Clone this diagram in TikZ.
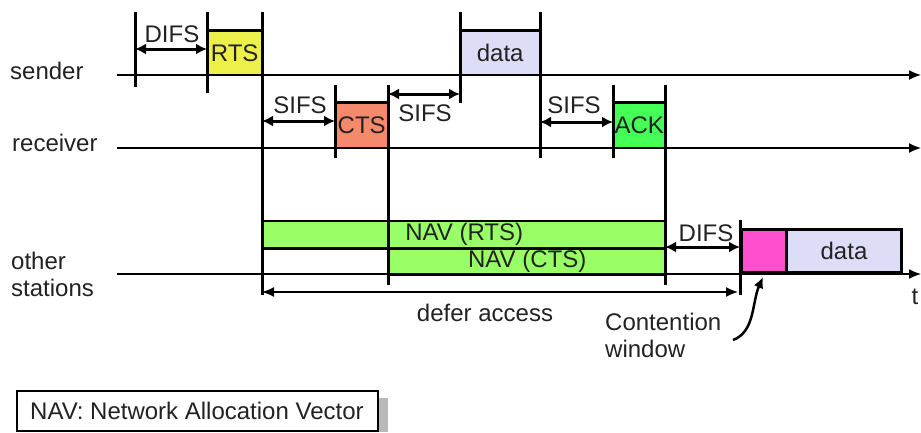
\documentclass[tikz,border=0pt]{standalone}
\usepackage{fontspec}
\setmainfont{Liberation Sans}
\usetikzlibrary{arrows.meta}
\definecolor{txt}{HTML}{222222}
\definecolor{rtsc}{HTML}{EEF04A}
\definecolor{ctsc}{HTML}{F4896B}
\definecolor{datac}{HTML}{DDDDF8}
\definecolor{ackc}{HTML}{44FF55}
\definecolor{navc}{HTML}{99FF66}
\definecolor{cwc}{HTML}{FF4FCF}
\begin{document}
\begin{tikzpicture}[x=1pt,y=-1pt,
  lbl/.style={font=\fontsize{24}{27}\selectfont, text=txt, inner sep=0pt},
  tline/.style={line width=1.5pt, -{Latex[length=12pt,width=10pt]}},
  tickline/.style={line width=3pt},
  dimarrow/.style={line width=3pt, {Latex[length=11pt,width=11pt]}-{Latex[length=11pt,width=11pt]}},
  fbox/.style={inner sep=0pt, font=\fontsize{24}{27}\selectfont, text=txt},
  navbox/.style={fbox, fill=navc, draw=black, line width=1.5pt, anchor=north west}
]
\useasboundingbox (0,0) rectangle (921,432);

% timelines
\coordinate (s0) at (117,75);  \coordinate (s1) at (921,75);
\coordinate (r0) at (117,148); \coordinate (r1) at (921,148);
\coordinate (o0) at (117,274); \coordinate (o1) at (921,274);

% row labels
\node[lbl, anchor=west] (lsend) at (10,71) {sender};
\node[lbl, anchor=west] (lrecv) at (12,143) {receiver};
\node[lbl, anchor=west, align=left] (loth) at (11,274) {other\\stations};

% frames on sender / receiver
\node[fbox, fill=rtsc, minimum width=55, minimum height=44, anchor=south west] (rts) at (207,75) {RTS};
\node[fbox, fill=ctsc, minimum width=53, minimum height=45, anchor=south west] (cts) at (335,148) {CTS};
\node[fbox, fill=datac, minimum width=80, minimum height=44, anchor=south west] (data) at (460,75) {data};
\node[fbox, fill=ackc, minimum width=52, minimum height=45, anchor=south west] (ack) at (613,148) {ACK};

% NAV bars
\node[navbox, minimum width=403, minimum height=27] (navr) at (262,220) {NAV (RTS)};
\node[navbox, minimum width=277, minimum height=27] (navc) at (388,247) {NAV (CTS)};

% other stations frames
\node[fbox, fill=cwc, draw=black, line width=3pt, minimum width=45, minimum height=43, anchor=south west] (cw) at (740,274) {};
\node[fbox, fill=datac, draw=black, line width=3pt, minimum width=115, minimum height=43, anchor=south west] (data2) at (785,274) {data};

% timelines drawn
\draw[tline] (s0) -- (s1);
\draw[tline] (r0) -- (r1);
\draw[tline] (o0) -- (o1);

% top edges of frames
\draw[tickline] (rts.north west) -- (rts.north east);
\draw[tickline] (cts.north west) -- (cts.north east);
\draw[tickline] (data.north west) -- (data.north east);
\draw[tickline] (ack.north west) -- (ack.north east);
\draw[tickline] (navr.south west) -- (navr.south east);

% vertical ticks
\draw[tickline] (135,12) -- (135,87);
\draw[tickline] (207,12) -- (207,93);
\draw[tickline] (262,12) -- (262,295);
\draw[tickline] (335,85) -- (335,158);
\draw[tickline] (388,85) -- (388,285);
\draw[tickline] (460,12) -- (460,103);
\draw[tickline] (540,12) -- (540,158);
\draw[tickline] (613,85) -- (613,158);
\draw[tickline] (665,85) -- (665,285);
\draw[tickline] (740,220) -- (740,295);

% interval arrows
\coordinate (d1a) at (135,49);  \coordinate (d1b) at (207,49);
\coordinate (sf1a) at (262,121); \coordinate (sf1b) at (335,121);
\coordinate (sf2a) at (388,94);  \coordinate (sf2b) at (460,94);
\coordinate (sf3a) at (540,122); \coordinate (sf3b) at (613,122);
\coordinate (d2a) at (665,247);  \coordinate (d2b) at (740,247);
\coordinate (dfa) at (262,292);  \coordinate (dfb) at (738,292);

\draw[dimarrow] (d1a) -- (d1b);
\draw[dimarrow] (sf1a) -- (sf1b);
\draw[dimarrow] (sf2a) -- (sf2b);
\draw[dimarrow] (sf3a) -- (sf3b);
\draw[dimarrow] (d2a) -- (d2b);
\draw[line width=1.5pt, {Latex[length=12pt,width=10pt]}-{Latex[length=12pt,width=10pt]}] (dfa) -- (dfb);

\node[lbl] (ldifs1) at (172,34) {DIFS};
\node[lbl] (lsifs1) at (300,105) {SIFS};
\node[lbl] (lsifs2) at (425,113) {SIFS};
\node[lbl] (lsifs3) at (574,105) {SIFS};
\node[lbl] (ldifs2) at (706,233) {DIFS};
\node[lbl] (ldefer) at (485,313) {defer access};
\node[lbl] (lt) at (915,297) {t};

% contention window label and arrow
\node[lbl, anchor=north west, align=left] (lcw) at (605,313) {Contention\\window};
\coordinate (cwstart) at (733,340);
\coordinate (cwend) at (763,277);
\draw[line width=2.5pt, -{Latex[length=11pt,width=10pt]}] (cwstart) .. controls (755,332) and (752,302) .. (cwend);

% legend
\fill[gray!55] (26,398) rectangle (388,432);
\node[fbox, draw=black, line width=1.5pt, fill=white, minimum width=361, minimum height=40, anchor=north west] (legend) at (16,390) {};
\node[lbl, anchor=west] (legtext) at (30,411) {NAV: Network Allocation Vector};
\end{tikzpicture}
\end{document}
